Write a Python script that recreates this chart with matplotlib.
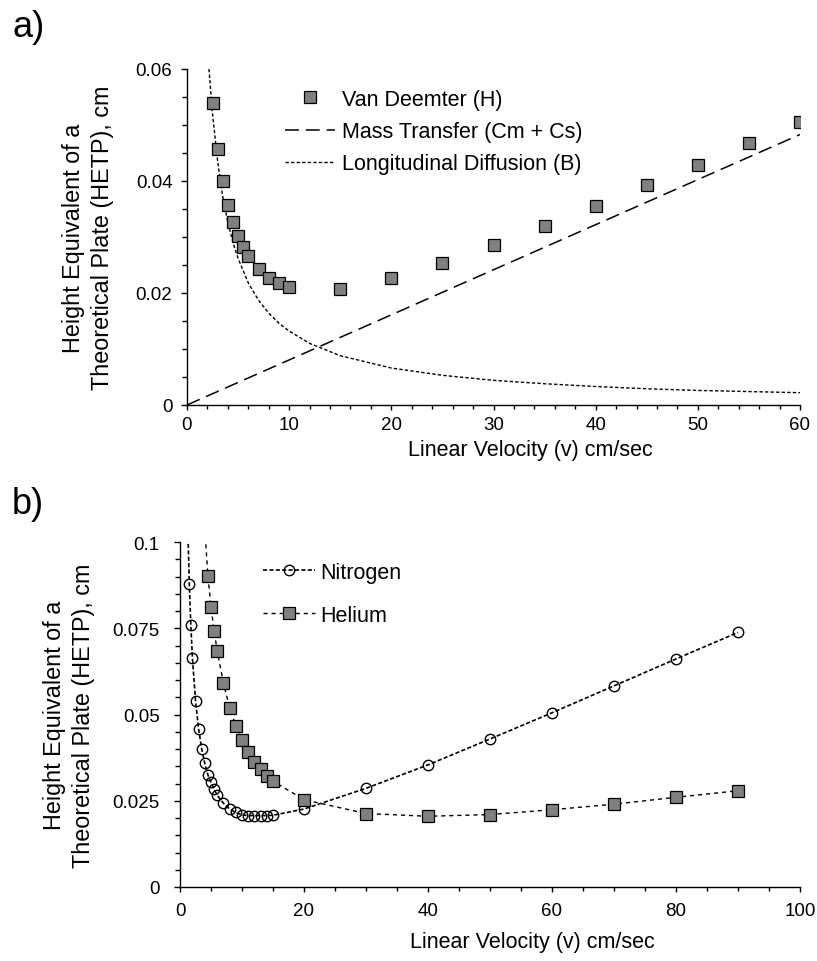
import matplotlib
matplotlib.use('Agg')
import matplotlib.pyplot as plt
from matplotlib.ticker import MultipleLocator, FuncFormatter

plt.rcParams['font.family'] = ['Liberation Sans', 'DejaVu Sans']
plt.rcParams['lines.scale_dashes'] = False

# ---------------- Panel a data ----------------
vd_v = [2.5, 3, 3.5, 4, 4.5, 5, 5.5, 6, 7, 8, 9, 10, 15, 20, 25, 30, 35, 40, 45, 50, 55, 60]
vd_h = [0.0540, 0.0458, 0.0400, 0.0358, 0.0326, 0.0301, 0.0282, 0.0266, 0.0242, 0.0227,
        0.0218, 0.0211, 0.0208, 0.0227, 0.0254, 0.0285, 0.0320, 0.0355, 0.0392, 0.0429,
        0.0467, 0.0505]
mt_v = [0, 60]
mt_h = [0.0, 0.0483]
ld_v = [2.15, 2.5, 3, 3.5, 4, 4.5, 5, 6, 7, 8, 9, 10, 12, 15, 20, 25, 30, 35, 40, 45, 50, 55, 60]
ld_h = [0.0600, 0.0520, 0.0435, 0.0372, 0.0326, 0.0290, 0.0262, 0.0218, 0.0187, 0.0164,
        0.0146, 0.0132, 0.0110, 0.0088, 0.0066, 0.0053, 0.0044, 0.0038, 0.0033, 0.0029,
        0.0026, 0.0024, 0.0022]

# ---------------- Panel b data ----------------
n2_v = [1.25, 1.5, 1.75, 2, 2.5, 3, 3.5, 4, 4.5, 5, 5.5, 6, 7, 8, 9, 10, 11, 12, 13, 14, 15,
        20, 30, 40, 50, 60, 70, 80, 90]
n2_h = [0.1050, 0.0878, 0.0758, 0.0665, 0.0540, 0.0458, 0.0400, 0.0358, 0.0325, 0.0303,
        0.0284, 0.0266, 0.0243, 0.0226, 0.0216, 0.0209, 0.0207, 0.0207, 0.0207, 0.0207,
        0.0208, 0.0226, 0.0286, 0.0354, 0.0429, 0.0505, 0.0583, 0.0661, 0.0738]
he_v = [4, 4.5, 5, 5.5, 6, 7, 8, 9, 10, 11, 12, 13, 14, 15, 20, 30, 40, 50, 60, 70, 80, 90]
he_h = [0.1040, 0.0901, 0.0813, 0.0743, 0.0684, 0.0592, 0.0520, 0.0468, 0.0426, 0.0392,
        0.0363, 0.0341, 0.0323, 0.0307, 0.0253, 0.0213, 0.0205, 0.0210, 0.0224, 0.0240,
        0.0260, 0.0279]

W, H = 817, 962
fig = plt.figure(figsize=(W / 100, H / 100), dpi=100)

def px_axes(l, r, t, b):
    return fig.add_axes([l / W, 1 - b / H, (r - l) / W, (b - t) / H])

axA = px_axes(187, 800, 70, 406)
axB = px_axes(180, 800, 543, 888)

fmt = FuncFormatter(lambda v, p: '%g' % round(v, 4))
label_fs = 15.5
ylabel_fs = 16.8
tick_fs = 13.5
ylabel = 'Height Equivalent of a\nTheoretical Plate (HETP), cm'
xlabel = 'Linear Velocity (v) cm/sec'

for ax in (axA, axB):
    for s in ('top', 'right'):
        ax.spines[s].set_visible(False)
    for s in ('left', 'bottom'):
        ax.spines[s].set_linewidth(1.0)
        ax.spines[s].set_color('black')
    ax.tick_params(axis='y', which='major', direction='out', length=4.5, width=1.0, labelsize=tick_fs)
    ax.tick_params(axis='y', which='minor', direction='out', length=3.5, width=1.0)
    ax.tick_params(axis='x', which='major', direction='out', length=3.8, width=1.0, labelsize=tick_fs)
    ax.tick_params(axis='x', which='minor', direction='out', length=3.0, width=1.0)
    ax.yaxis.set_major_formatter(fmt)
    ax.xaxis.set_major_formatter(fmt)

axA.tick_params(axis='y', which='major', pad=6)
axA.tick_params(axis='x', which='major', pad=3.8)
axB.tick_params(axis='y', which='major', pad=10)
axB.tick_params(axis='x', which='major', pad=7)

# ---- Panel a ----
axA.plot(vd_v, vd_h, linestyle='none', marker='s', ms=8, mfc='#808080', mec='black', mew=0.9,
         label='Van Deemter (H)', zorder=3)
axA.plot(mt_v, mt_h, color='black', lw=1.1, linestyle=(0, (10, 5)), label='Mass Transfer (Cm + Cs)')
axA.plot(ld_v, ld_h, color='black', lw=1.0, linestyle=(0, (2.4, 1.6)), label='Longitudinal Diffusion (B)')
axA.set_xlim(0, 60)
axA.set_ylim(0, 0.06)
axA.xaxis.set_major_locator(MultipleLocator(10))
axA.xaxis.set_minor_locator(MultipleLocator(2))
axA.yaxis.set_major_locator(MultipleLocator(0.02))
axA.yaxis.set_minor_locator(MultipleLocator(0.005))
axA.set_ylabel(ylabel, fontsize=ylabel_fs, linespacing=1.35)
axA.yaxis.set_label_coords(-0.119, 0.5)
axA.set_xlabel(xlabel, fontsize=label_fs)
axA.xaxis.set_label_coords(0.56, -0.1)
legA = axA.legend(loc='upper left', bbox_to_anchor=(285 / W, 1 - 90 / H),
                  bbox_transform=fig.transFigure, frameon=False, fontsize=label_fs,
                  handlelength=2.33, handletextpad=0.3, labelspacing=0.52,
                  borderpad=0, borderaxespad=0, numpoints=1)

# ---- Panel b ----
axB.plot(n2_v, n2_h, color='black', lw=1.2, linestyle=(0, (3, 1.6)), marker='o', ms=7.5,
         mfc='none', mec='black', mew=1.0, label='Nitrogen')
axB.plot(he_v, he_h, color='black', lw=1.0, linestyle=(0, (3, 2.8)), marker='s', ms=8,
         mfc='#808080', mec='black', mew=0.9, label='Helium')
axB.set_xlim(0, 100)
axB.set_ylim(0, 0.1)
axB.xaxis.set_major_locator(MultipleLocator(20))
axB.xaxis.set_minor_locator(MultipleLocator(5))
axB.yaxis.set_major_locator(MultipleLocator(0.025))
axB.yaxis.set_minor_locator(MultipleLocator(0.005))
axB.set_ylabel(ylabel, fontsize=ylabel_fs, linespacing=1.35)
axB.yaxis.set_label_coords(-0.137, 0.5)
axB.set_xlabel(xlabel, fontsize=label_fs)
axB.xaxis.set_label_coords(0.568, -0.128)
legB = axB.legend(loc='upper left', bbox_to_anchor=(263 / W, 1 - 563 / H),
                  bbox_transform=fig.transFigure, frameon=False, fontsize=label_fs,
                  handlelength=2.42, handletextpad=0.25, labelspacing=1.0,
                  borderpad=0, borderaxespad=0, numpoints=1)

fig.text(12 / W, 1 - 10 / H, 'a)', fontsize=26, va='top', ha='left')
fig.text(12 / W, 1 - 487 / H, 'b)', fontsize=26, va='top', ha='left')

fig.savefig('out.png', dpi=100)
